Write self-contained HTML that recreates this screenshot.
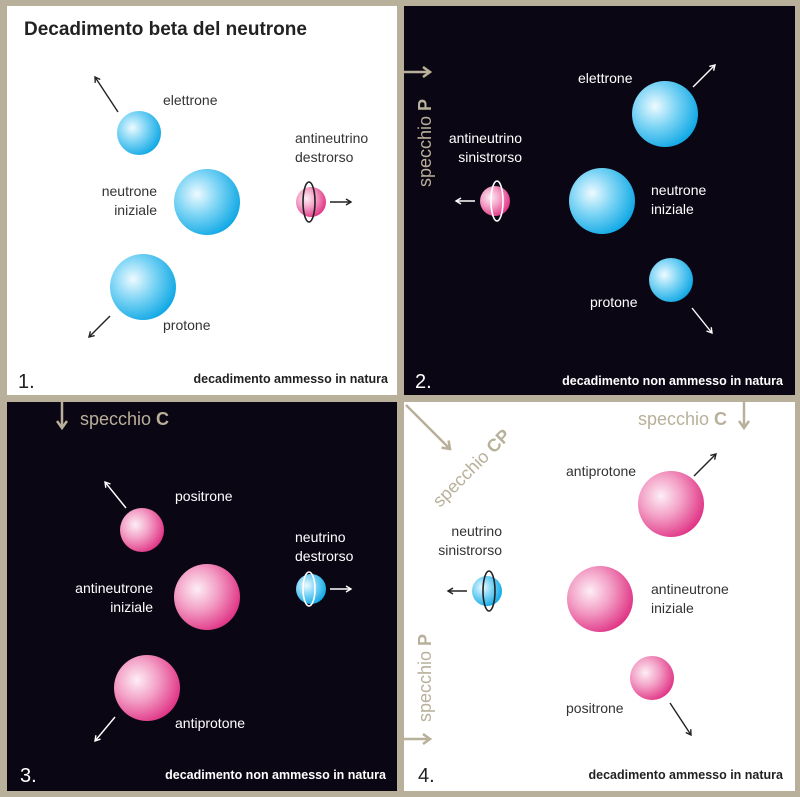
<!DOCTYPE html>
<html><head><meta charset="utf-8"><style>
html,body{margin:0;padding:0;background:#b8b09a}
svg{display:block}
text{font-family:"Liberation Sans",sans-serif}
</style></head><body>
<svg width="800" height="797" viewBox="0 0 800 797" xmlns="http://www.w3.org/2000/svg">
<defs>
<radialGradient id="b" cx="0.35" cy="0.38" r="0.7">
<stop offset="0" stop-color="#eefaff"/><stop offset="0.45" stop-color="#7fd5f5"/><stop offset="1" stop-color="#0aa6e4"/></radialGradient>
<radialGradient id="p" cx="0.35" cy="0.38" r="0.7">
<stop offset="0" stop-color="#fdeef5"/><stop offset="0.45" stop-color="#f3a0c6"/><stop offset="1" stop-color="#df2f82"/></radialGradient>
<marker id="ak" markerWidth="8" markerHeight="8" refX="6" refY="4" orient="auto" markerUnits="userSpaceOnUse"><path d="M1,1 L6,4 L1,7" fill="none" stroke="#222" stroke-width="1.4"/></marker>
<marker id="aw" markerWidth="8" markerHeight="8" refX="6" refY="4" orient="auto" markerUnits="userSpaceOnUse"><path d="M1,1 L6,4 L1,7" fill="none" stroke="#fff" stroke-width="1.4"/></marker>
<marker id="ag" markerWidth="12" markerHeight="12" refX="9" refY="6" orient="auto" markerUnits="userSpaceOnUse"><path d="M2,1 L9,6 L2,11" fill="none" stroke="#b8b09a" stroke-width="2.5"/></marker>
</defs>
<rect width="800" height="797" fill="#b8b09a"/>
<rect x="7" y="6" width="390" height="389" fill="#fff"/>
<rect x="404" y="6" width="391" height="389" fill="#0b0614"/>
<rect x="7" y="402" width="390" height="389" fill="#0b0614"/>
<rect x="404" y="402" width="391" height="389" fill="#fff"/>

<!-- Panel 1 -->
<g font-size="14" fill="#333">
<text x="24" y="35" font-size="19" font-weight="bold" fill="#222">Decadimento beta del neutrone</text>
<line x1="118" y1="112" x2="95" y2="77" stroke="#222" stroke-width="1.4" marker-end="url(#ak)"/>
<circle cx="139" cy="133" r="22" fill="url(#b)"/>
<text x="163" y="105">elettrone</text>
<circle cx="207" cy="202" r="33" fill="url(#b)"/>
<text x="157" y="196" text-anchor="end">neutrone</text>
<text x="157" y="215" text-anchor="end">iniziale</text>
<text x="295" y="143">antineutrino</text>
<text x="295" y="162">destrorso</text>
<circle cx="311" cy="202" r="15" fill="url(#p)"/>
<ellipse cx="309" cy="202" rx="6" ry="20" fill="none" stroke="#222" stroke-width="1.6"/>
<line x1="330" y1="202" x2="351" y2="202" stroke="#222" stroke-width="1.4" marker-end="url(#ak)"/>
<circle cx="143" cy="287" r="33" fill="url(#b)"/>
<line x1="110" y1="316" x2="89" y2="337" stroke="#222" stroke-width="1.4" marker-end="url(#ak)"/>
<text x="163" y="330">protone</text>
<text x="18" y="388" font-size="20" fill="#222">1.</text>
<text x="388" y="383" font-size="12.5" font-weight="bold" fill="#222" text-anchor="end">decadimento ammesso in natura</text>
</g>

<!-- Panel 2 -->
<g font-size="14" fill="#fff">
<line x1="404" y1="72" x2="430" y2="72" stroke="#b8b09a" stroke-width="2.5" marker-end="url(#ag)"/>
<text transform="translate(431,187) rotate(-90)" font-size="18" fill="#b8b09a">specchio <tspan font-weight="bold">P</tspan></text>
<text x="522" y="143" text-anchor="end">antineutrino</text>
<text x="522" y="162" text-anchor="end">sinistrorso</text>
<circle cx="495" cy="201" r="15" fill="url(#p)"/>
<ellipse cx="497" cy="201" rx="6" ry="20" fill="none" stroke="#fff" stroke-width="1.6"/>
<line x1="475" y1="201" x2="456" y2="201" stroke="#fff" stroke-width="1.4" marker-end="url(#aw)"/>
<text x="578" y="83">elettrone</text>
<circle cx="665" cy="114" r="33" fill="url(#b)"/>
<line x1="693" y1="87" x2="715" y2="65" stroke="#fff" stroke-width="1.4" marker-end="url(#aw)"/>
<circle cx="602" cy="201" r="33" fill="url(#b)"/>
<text x="651" y="195">neutrone</text>
<text x="651" y="214">iniziale</text>
<circle cx="671" cy="280" r="22" fill="url(#b)"/>
<line x1="692" y1="308" x2="712" y2="333" stroke="#fff" stroke-width="1.4" marker-end="url(#aw)"/>
<text x="590" y="307">protone</text>
<text x="415" y="388" font-size="20">2.</text>
<text x="783" y="385" font-size="12.5" font-weight="bold" text-anchor="end">decadimento non ammesso in natura</text>
</g>

<!-- Panel 3 -->
<g font-size="14" fill="#fff">
<line x1="62" y1="402" x2="62" y2="428" stroke="#b8b09a" stroke-width="2.5" marker-end="url(#ag)"/>
<text x="80" y="425" font-size="18" fill="#b8b09a">specchio <tspan font-weight="bold">C</tspan></text>
<line x1="126" y1="508" x2="105" y2="482" stroke="#fff" stroke-width="1.4" marker-end="url(#aw)"/>
<circle cx="142" cy="530" r="22" fill="url(#p)"/>
<text x="175" y="501">positrone</text>
<circle cx="207" cy="597" r="33" fill="url(#p)"/>
<text x="153" y="593" text-anchor="end">antineutrone</text>
<text x="153" y="612" text-anchor="end">iniziale</text>
<text x="295" y="542">neutrino</text>
<text x="295" y="561">destrorso</text>
<circle cx="311" cy="589" r="15" fill="url(#b)"/>
<ellipse cx="309" cy="589" rx="6" ry="17" fill="none" stroke="#fff" stroke-width="1.6"/>
<line x1="330" y1="589" x2="351" y2="589" stroke="#fff" stroke-width="1.4" marker-end="url(#aw)"/>
<circle cx="147" cy="688" r="33" fill="url(#p)"/>
<line x1="115" y1="717" x2="95" y2="741" stroke="#fff" stroke-width="1.4" marker-end="url(#aw)"/>
<text x="175" y="728">antiprotone</text>
<text x="20" y="782" font-size="20">3.</text>
<text x="386" y="779" font-size="12.5" font-weight="bold" text-anchor="end">decadimento non ammesso in natura</text>
</g>

<!-- Panel 4 -->
<g font-size="14" fill="#333">
<line x1="744" y1="402" x2="744" y2="428" stroke="#b8b09a" stroke-width="2.5" marker-end="url(#ag)"/>
<text x="727" y="425" font-size="18" fill="#b8b09a" text-anchor="end">specchio <tspan font-weight="bold">C</tspan></text>
<line x1="406" y1="405" x2="450" y2="449" stroke="#b8b09a" stroke-width="2.5" marker-end="url(#ag)"/>
<text transform="translate(440,508) rotate(-45)" font-size="18" fill="#b8b09a">specchio <tspan font-weight="bold">CP</tspan></text>
<text x="566" y="476">antiprotone</text>
<circle cx="671" cy="504" r="33" fill="url(#p)"/>
<line x1="694" y1="476" x2="716" y2="454" stroke="#222" stroke-width="1.4" marker-end="url(#ak)"/>
<text x="502" y="536" text-anchor="end">neutrino</text>
<text x="502" y="555" text-anchor="end">sinistrorso</text>
<circle cx="487" cy="591" r="15" fill="url(#b)"/>
<ellipse cx="489" cy="591" rx="6" ry="20" fill="none" stroke="#222" stroke-width="1.6"/>
<line x1="467" y1="591" x2="448" y2="591" stroke="#222" stroke-width="1.4" marker-end="url(#ak)"/>
<circle cx="600" cy="599" r="33" fill="url(#p)"/>
<text x="651" y="594">antineutrone</text>
<text x="651" y="613">iniziale</text>
<circle cx="652" cy="678" r="22" fill="url(#p)"/>
<line x1="670" y1="703" x2="691" y2="735" stroke="#222" stroke-width="1.4" marker-end="url(#ak)"/>
<text x="566" y="713">positrone</text>
<line x1="404" y1="739" x2="430" y2="739" stroke="#b8b09a" stroke-width="2.5" marker-end="url(#ag)"/>
<text transform="translate(431,722) rotate(-90)" font-size="18" fill="#b8b09a">specchio <tspan font-weight="bold">P</tspan></text>
<text x="418" y="782" font-size="20" fill="#222">4.</text>
<text x="783" y="779" font-size="12.5" font-weight="bold" fill="#222" text-anchor="end">decadimento ammesso in natura</text>
</g>
</svg>
</body></html>
